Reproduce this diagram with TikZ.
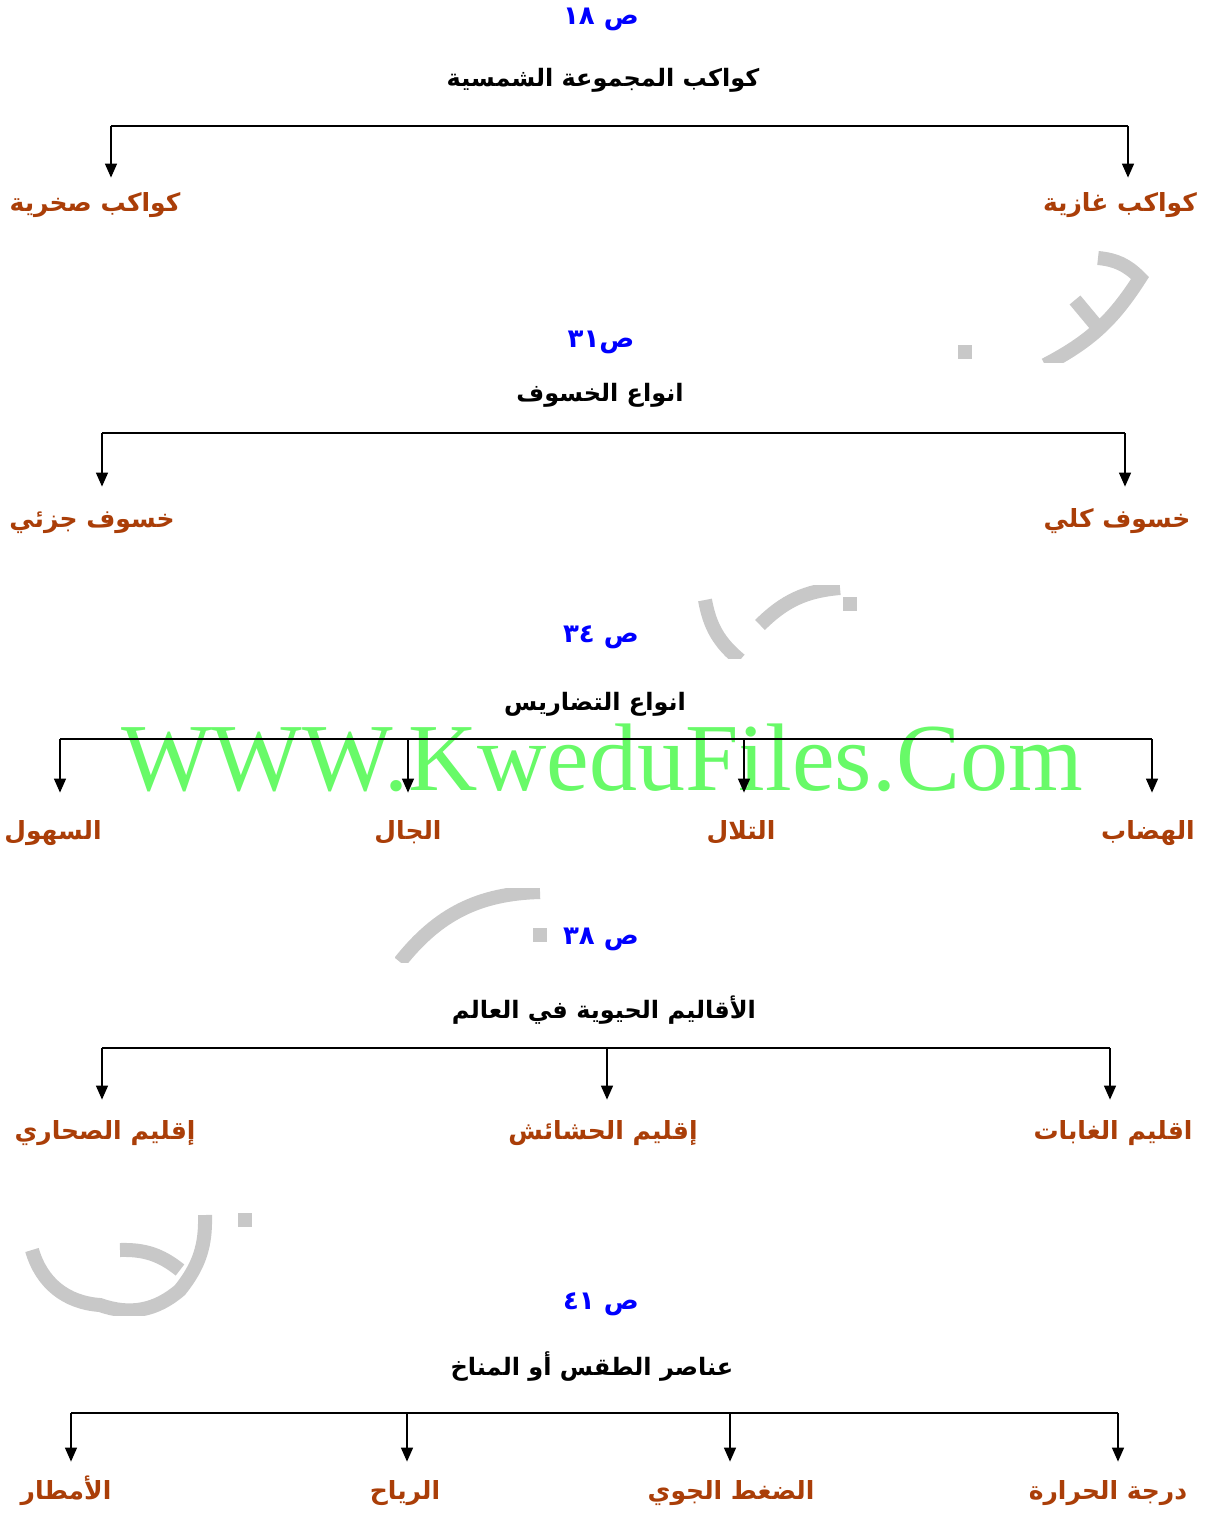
\documentclass[tikz,border=0pt]{standalone}
\usepackage{fontspec}
\usetikzlibrary{arrows.meta}
\TeXXeTstate=1
\newfontfamily\arabicfont[Script=Arabic]{DejaVu Sans}
\newfontfamily\wmfont{Liberation Serif}
\definecolor{refblue}{RGB}{0,0,255}
\definecolor{leafbrown}{RGB}{170,62,8}
\definecolor{wmgreen}{RGB}{104,250,104}
\definecolor{wmgrey}{RGB}{200,200,200}
\newcommand\ar[1]{\arabicfont\beginR #1\endR}

\begin{document}
\begin{tikzpicture}[
    x=0.5pt, y=-0.5pt,
    pageref/.style={text=refblue,font=\bfseries\fontsize{13}{15}\selectfont},
    title/.style={font=\bfseries\fontsize{12}{14}\selectfont},
    leaf/.style={text=leafbrown,font=\bfseries\fontsize{12.5}{14}\selectfont,
      text height=10pt,text depth=3pt,inner sep=0pt},
    bar/.style={line width=0.7pt},
    down/.style={bar,-{Triangle[length=7pt,width=6pt]},shorten >=#1},
    wm/.style={wmgrey,line width=7pt}
  ]
    \useasboundingbox[fill=white] (0,0) rectangle (1206,1513);

    % grey watermark strokes
    \begin{scope}
      \clip (940,250) rectangle (1150,363);
      \draw[wm] (1098,258) to[bend left=20] (1140,278) to[bend left=15] (1045,365);
      \draw[wm] (1075,300) -- (1100,330);
      \fill[wmgrey] (958,345) rectangle (972,359);
    \end{scope}
    \begin{scope}
      \clip (690,585) rectangle (870,658);
      \draw[wm] (705,600) to[bend right=20] (740,660);
      \draw[wm] (760,625) to[bend left=20] (840,588);
      \fill[wmgrey] (843,597) rectangle (857,611);
    \end{scope}
    \begin{scope}
      \clip (395,888) rectangle (560,962);
      \draw[wm] (400,962) to[bend left=25] (540,892);
      \fill[wmgrey] (533,928) rectangle (547,942);
    \end{scope}
    \begin{scope}
      \clip (20,1212) rectangle (260,1315);
      \draw[wm] (32,1250) to[bend right=35] (100,1305) to[bend right=30] (180,1290) to[bend right=20] (205,1215);
      \draw[wm] (120,1250) to[bend left=20] (180,1270);
      \fill[wmgrey] (238,1213) rectangle (252,1227);
    \end{scope}

    \node[text=wmgreen,inner sep=0pt,font=\wmfont\fontsize{48}{50}\selectfont] (wmark) at (602,758) {WWW.KweduFiles.Com};

    % tree 1
    \node[pageref] (p1) at (601,19) {\ar{ص \beginL١٨\endL}};
    \node[title] (t1) at (603,80) {\ar{كواكب المجموعة الشمسية}};
    \coordinate (b1a) at (111,126);
    \coordinate (b1b) at (1128,126);
    \node[leaf] (c1a) at (95,205) {\ar{كواكب صخرية}};
    \node[leaf] (c1b) at (1120,205) {\ar{كواكب غازية}};
    \draw[bar] (b1a) -- (b1b);
    \draw[down=7pt] (b1a) -- (b1a |- c1a.north);
    \draw[down=7pt] (b1b) -- (b1b |- c1b.north);

    % tree 2
    \node[pageref] (p2) at (601,342) {\ar{ص\beginL٣١\endL}};
    \node[title] (t2) at (600,395) {\ar{انواع الخسوف}};
    \coordinate (b2a) at (102,433);
    \coordinate (b2b) at (1125,433);
    \node[leaf] (c2a) at (92,520) {\ar{خسوف جزئي}};
    \node[leaf] (c2b) at (1117,520) {\ar{خسوف كلي}};
    \draw[bar] (b2a) -- (b2b);
    \draw[down=10pt] (b2a) -- (b2a |- c2a.north);
    \draw[down=10pt] (b2b) -- (b2b |- c2b.north);

    % tree 3
    \node[pageref] (p3) at (601,637) {\ar{ص \beginL٣٤\endL}};
    \node[title] (t3) at (595,704) {\ar{انواع التضاريس}};
    \coordinate (b3a) at (60,739);
    \coordinate (b3b) at (408,739);
    \coordinate (b3c) at (744,739);
    \coordinate (b3d) at (1152,739);
    \node[leaf] (c3a) at (53,832) {\ar{السهول}};
    \node[leaf] (c3b) at (408,832) {\ar{الجال}};
    \node[leaf] (c3c) at (741,832) {\ar{التلال}};
    \node[leaf] (c3d) at (1148,832) {\ar{الهضاب}};
    \draw[bar] (b3a) -- (b3d);
    \foreach \k in {a,b,c,d}
      \draw[down=13pt] (b3\k) -- (b3\k |- c3\k.north);

    % tree 4
    \node[pageref] (p4) at (601,939) {\ar{ص \beginL٣٨\endL}};
    \node[title] (t4) at (604,1010) {\ar{الأقاليم الحيوية في العالم}};
    \coordinate (b4a) at (102,1048);
    \coordinate (b4b) at (607,1048);
    \coordinate (b4c) at (1110,1048);
    \node[leaf] (c4a) at (105,1132) {\ar{إقليم الصحاري}};
    \node[leaf] (c4b) at (603,1132) {\ar{إقليم الحشائش}};
    \node[leaf] (c4c) at (1113,1132) {\ar{اقليم الغابات}};
    \draw[bar] (b4a) -- (b4c);
    \foreach \k in {a,b,c}
      \draw[down=9.5pt] (b4\k) -- (b4\k |- c4\k.north);

    % tree 5
    \node[pageref] (p5) at (601,1304) {\ar{ص \beginL٤١\endL}};
    \node[title] (t5) at (592,1366) {\ar{عناصر الطقس أو المناخ}};
    \coordinate (b5a) at (71,1413);
    \coordinate (b5b) at (407,1413);
    \coordinate (b5c) at (730,1413);
    \coordinate (b5d) at (1118,1413);
    \node[leaf] (c5a) at (66,1492) {\ar{الأمطار}};
    \node[leaf] (c5b) at (405,1492) {\ar{الرياح}};
    \node[leaf] (c5c) at (731,1492) {\ar{الضغط الجوي}};
    \node[leaf] (c5d) at (1108,1492) {\ar{درجة الحرارة}};
    \draw[bar] (b5a) -- (b5d);
    \foreach \k in {a,b,c,d}
      \draw[down=8.5pt] (b5\k) -- (b5\k |- c5\k.north);
  \end{tikzpicture}
\end{document}
